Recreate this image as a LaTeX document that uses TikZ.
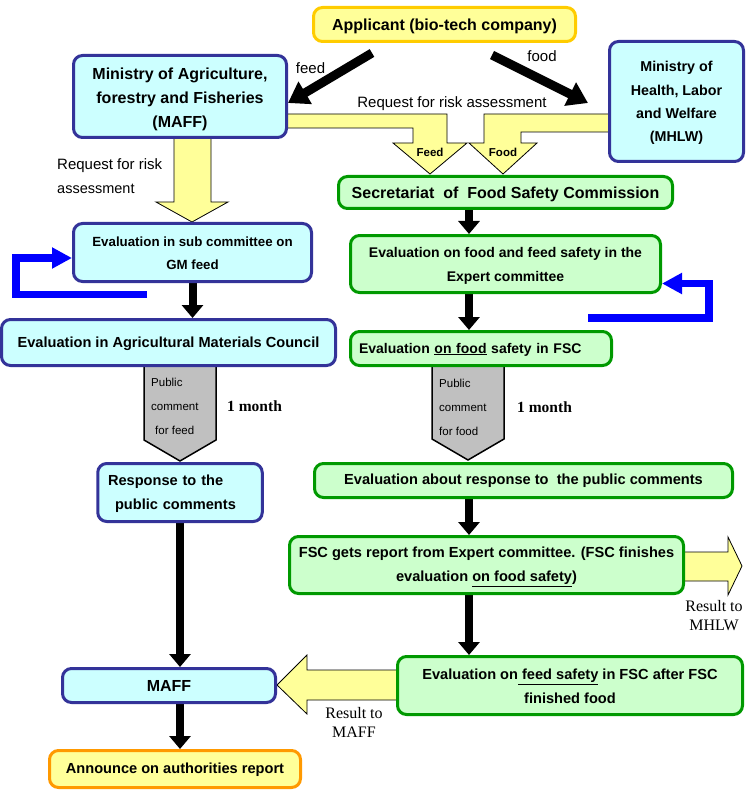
\documentclass[tikz,border=0pt]{standalone}
\usepackage{fontspec}
\setmainfont{Liberation Sans}
\newfontfamily\tnr{Liberation Serif}
\usetikzlibrary{arrows.meta}
\pgfdeclarelayer{bg}
\pgfsetlayers{bg,main}
\definecolor{cyanf}{HTML}{CCFFFF}
\definecolor{navy}{HTML}{333399}
\definecolor{greenf}{HTML}{CCFFCC}
\definecolor{greend}{HTML}{009900}
\definecolor{yel}{HTML}{FFFF99}
\definecolor{gold}{HTML}{FFCC00}
\definecolor{orng}{HTML}{FF9900}
\definecolor{grayf}{HTML}{C0C0C0}
\newcommand\dn[2]{\raisebox{-#1pt}[\height][\depth]{#2}}
\begin{document}
\begin{tikzpicture}[x=1pt,y=-1pt,
  box/.style={draw, line width=3pt, rounded corners=9pt, inner sep=0pt, align=center},
  bluebox/.style={box, draw=navy, fill=cyanf},
  greenbox/.style={box, draw=greend, fill=greenf},
  yelbox/.style={box, fill=yel},
  fA/.style={font=\fontsize{16}{24}\selectfont\bfseries},
  fB/.style={font=\fontsize{14.6}{24}\selectfont\bfseries},
  fC/.style={font=\fontsize{14}{24}\selectfont\bfseries},
  fM/.style={font=\fontsize{14.3}{23.3}\selectfont\bfseries},
  fS/.style={font=\fontsize{13.3}{23}\selectfont\bfseries},
  fR/.style={font=\fontsize{15}{24}\selectfont, inner sep=0pt},
  fsb/.style={font=\fontsize{11.5}{14}\selectfont\bfseries, inner sep=0pt},
  fpc/.style={font=\fontsize{11.5}{24}\selectfont, inner sep=0pt, align=left, anchor=west},
  fT/.style={font=\fontsize{16}{19}\selectfont\tnr, inner sep=0pt, align=center},
  month/.style={font=\fontsize{15.5}{19}\selectfont\tnr\bfseries, inner sep=0pt, anchor=west},
  blk/.style={line width=8pt, -{Triangle[length=13pt,width=21pt]}},
  blkd/.style={line width=9pt, -{Triangle[length=20pt,width=25pt]}},
  bluearr/.style={draw=blue, line width=7.5pt, -{Triangle[length=20pt,width=20pt]}},
  yarr/.style={draw=black, line width=0.8pt, fill=yel, line join=miter},
  pent/.style={draw=black, line width=1.5pt, fill=grayf}
]
\useasboundingbox (0,0) rectangle (747,802);

% boxes
\node[yelbox, draw=gold, fA, minimum width=262, minimum height=34] (app) at (444.5,24.5) {\dn{1.7}{Applicant (bio-tech company)}};
\node[bluebox, fA, minimum width=213, minimum height=82] (maff) at (180,96.5) {\dn{3}{Ministry of Agriculture,}\\\dn{3}{forestry and Fisheries}\\\dn{3}{(MAFF)}};
\node[bluebox, fM, minimum width=134, minimum height=120] (mhlw) at (676.5,101.5) {\dn{1.7}{Ministry of}\\\dn{1.7}{Health, Labor}\\\dn{1.7}{and Welfare}\\\dn{1.7}{(MHLW)}};
\node[greenbox, fA, minimum width=334, minimum height=32] (sec) at (505.5,192.5) {\dn{1.7}{Secretariat\ \ of\ \ Food Safety Commission}};
\node[bluebox, fS, minimum width=238, minimum height=58] (sub) at (192.5,252.5) {\dn{1.2}{Evaluation in sub committee on}\\\dn{1.2}{GM feed}};
\node[bluebox, fB, minimum width=334, minimum height=46] (amc) at (168.5,342.5) {\dn{0.8}{Evaluation in Agricultural Materials Council}};
\node[greenbox, fC, minimum width=310, minimum height=57] (exp) at (505.5,264) {\dn{2}{Evaluation on food and feed safety in the}\\\dn{2}{Expert committee}};
\node[greenbox, fC, minimum width=261, minimum height=34, text width=244, align=left] (fsc) at (481,348.5) {\dn{1}{Evaluation \underline{on food} safety in FSC}};
\node[bluebox, fB, minimum width=164.5, minimum height=58, text width=144, align=left] (resp) at (180,492.5) {\dn{1.5}{Response to the}\\\hspace*{7pt}\dn{1.5}{public comments}};
\node[greenbox, fB, minimum width=418, minimum height=34] (about) at (523.5,480.5) {\dn{0.5}{Evaluation about response to\ \ the public comments}};
\node[greenbox, fB, minimum width=394, minimum height=57] (rep) at (486.5,565) {\dn{2}{FSC gets report from Expert committee. (FSC finishes}\\\dn{2}{evaluation \underline{on food safety})}};
\node[greenbox, fB, minimum width=345, minimum height=58] (feedev) at (570,685.5) {\dn{1}{Evaluation on\underline{ feed safety} in FSC after FSC}\\\dn{1}{finished food}};
\node[bluebox, fA, minimum width=213, minimum height=34] (maff2) at (169,685.5) {MAFF};
\node[yelbox, draw=orng, fB, minimum width=251, minimum height=37] (ann) at (175,769) {\dn{0.5}{Announce on authorities report}};

% labels
\node[fR] (lfeed) at (310.5,68) {feed};
\node[fR] (lfood) at (542,56) {food};
\node[fR] (lreq) at (452,104) {Request for risk assessment};
\node[fR, anchor=west, align=left] (lreq2) at (57,176) {Request for risk\\{\fontsize{14.5}{24}\selectfont assessment}};
\node[fsb] (lFeed) at (430,152) {Feed};
\node[fsb] (lFood) at (503,152) {Food};
\node[fT] (rmhlw) at (714,615.5) {Result to\\MHLW};
\node[fT] (rmaff) at (354,722.5) {Result to\\MAFF};
\node[month] (m1) at (227,406) {1 month};
\node[month] (m2) at (517,407) {1 month};
\node[fpc] (pc1) at (151,406) {Public\\comment\\\hspace*{4pt}for feed};
\node[fpc] (pc2) at (439,407) {Public\\comment\\for food};

\coordinate (rx) at (469,0);
\coordinate (fa) at (372,53);
\coordinate (fo) at (492,55);
\coordinate (foe) at (588,103);

\begin{pgfonlayer}{bg}
  % yellow block arrows
  \draw[yarr] (280,114) -- (447,114) -- (447,143) -- (467,143) -- (430,174) -- (393,143) -- (413,143) -- (413,128) -- (280,128) -- cycle;
  \draw[yarr] (620,114) -- (484,114) -- (484,143) -- (469,143) -- (503,174) -- (537,143) -- (521,143) -- (521,132) -- (620,132) -- cycle;
  \draw[yarr] (174,132) -- (211,132) -- (211,202) -- (228,202) -- (192,222) -- (156,202) -- (174,202) -- cycle;
  \draw[yarr] (678,552) -- (728,552) -- (728,537) -- (742,566) -- (728,595) -- (728,581) -- (678,581) -- cycle;
  \draw[yarr] (402,670) -- (307,670) -- (307,655) -- (277,685) -- (307,714) -- (307,700) -- (402,700) -- cycle;
  % grey public comment arrows
  \draw[pent] (144,360) -- (216,360) -- (216,440) -- (180,461) -- (144,440) -- cycle;
  \draw[pent] (432,360) -- (504,360) -- (504,439) -- (468,460) -- (432,439) -- cycle;
  % black arrows
  \draw[blkd] (fa) -- ([yshift=-6.5pt]maff.east);
  \draw[blkd] (fo) -- (foe);
  \draw[blk] (sec.south -| rx) -- (exp.north -| rx);
  \draw[blk] (exp.south -| rx) -- (fsc.north -| rx);
  \draw[blk] (about.south -| rx) -- (rep.north -| rx);
  \draw[blk] (rep.south -| rx) -- (feedev.north -| rx);
  \draw[blk] (sub.south) -- (amc.north -| sub.south);
  \draw[blk] (resp.south) -- (maff2.north -| resp.south);
  \draw[blk] (maff2.south -| resp.south) -- (ann.north -| resp.south);
  % blue feedback arrows
  \draw[bluearr] (147,294.5) -- (16,294.5) -- (16,258) -- ([yshift=-5.5pt]sub.west);
  \draw[bluearr] (588,318) -- (709,318) -- (709,283.5) -- ([yshift=-19.5pt]exp.east);
\end{pgfonlayer}
\end{tikzpicture}
\end{document}
